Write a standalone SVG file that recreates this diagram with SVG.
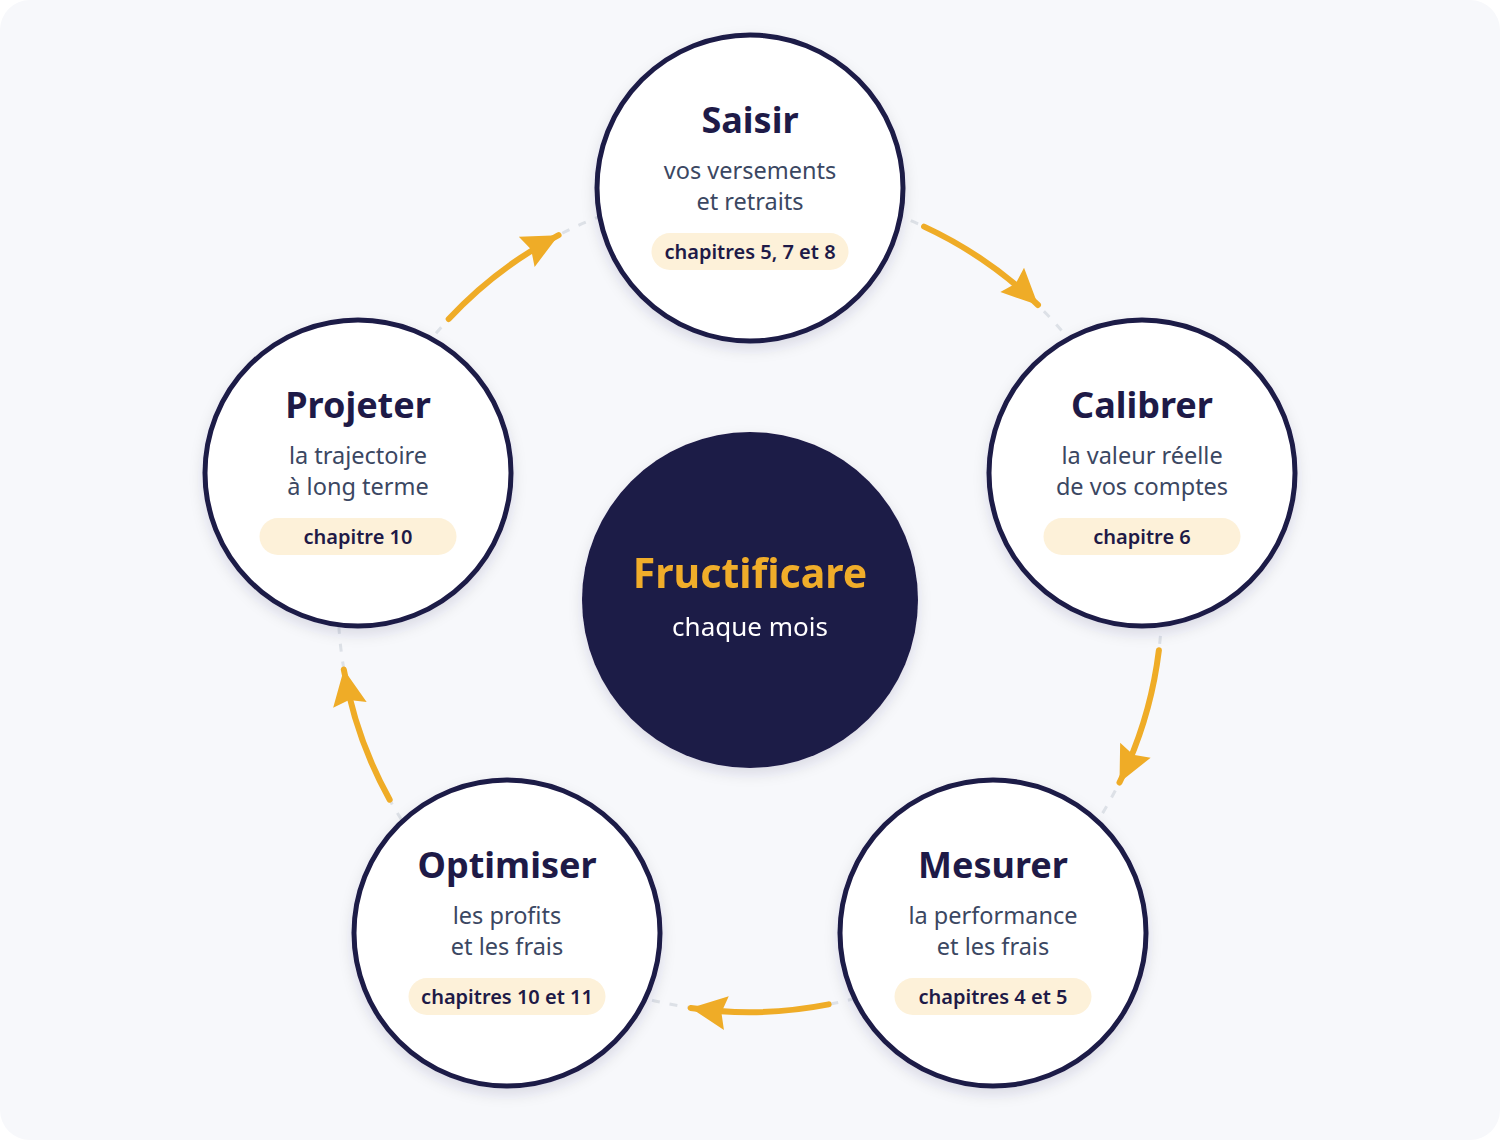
<svg xmlns="http://www.w3.org/2000/svg" width="1500" height="1140" viewBox="0 0 1500 1140">
<defs>
<filter id="sh" x="-20%" y="-20%" width="140%" height="150%"><feDropShadow dx="0" dy="6" stdDeviation="7" flood-color="#1e1a47" flood-opacity="0.12"/></filter>
<marker id="ah" markerUnits="userSpaceOnUse" markerWidth="44" markerHeight="44" viewBox="0 0 44 44" refX="40" refY="22" orient="auto"><path d="M4,5 L40,22 L4,39 L9,22 Z" fill="#efac27"/></marker>
<style>
.node{fill:#fff;stroke:#1e1a47;stroke-width:5}
.t{font-family:"Noto Sans","Open Sans",sans-serif;font-weight:700;font-size:36px;fill:#1e1a47;text-anchor:middle}
.s{font-family:"Noto Sans","Open Sans",sans-serif;font-size:23.5px;fill:#3b4762;text-anchor:middle}
.pill{fill:#fdf1d9}
.p{font-family:"Noto Sans","Open Sans",sans-serif;font-weight:600;font-size:20px;fill:#1e1a47;text-anchor:middle}
.arr{fill:none;stroke:#efac27;stroke-width:6;stroke-linecap:round}
</style>
</defs>
<rect x="0" y="0" width="1500" height="1140" rx="30" fill="#f7f8fb"/>
<circle cx="750" cy="600" r="412" fill="none" stroke="#dde1e7" stroke-width="3" stroke-dasharray="8 10"/>
<g id="connectors">
<path class="arr" marker-end="url(#ah)" d="M924.1,226.6 A412,412 0 0 1 1038,305"/>
<path class="arr" marker-end="url(#ah)" d="M1158.9,650.2 A412,412 0 0 1 1119.5,782.5"/>
<path class="arr" marker-end="url(#ah)" d="M828.6,1004.4 A412,412 0 0 1 690.7,1008"/>
<path class="arr" marker-end="url(#ah)" d="M389.7,799.7 A412,412 0 0 1 343.8,669.5"/>
<path class="arr" marker-end="url(#ah)" d="M448.7,319 A412,412 0 0 1 558.6,235.2"/>
</g>
<g id="center" filter="url(#sh)">
<circle cx="750" cy="600" r="168" fill="#1e1a47"/>
<text x="750" y="588" font-family="Noto Sans,Open Sans,sans-serif" font-weight="700" font-size="41" fill="#f0ad2a" text-anchor="middle">Fructificare</text>
<text x="750" y="636" font-family="Noto Sans,Open Sans,sans-serif" font-size="26" fill="#fff" text-anchor="middle">chaque mois</text>
</g>
<g id="saisir" transform="translate(750,188)">
<circle class="node" r="153" filter="url(#sh)"/>
<text class="t" y="-55">Saisir</text>
<text class="s" y="-9">vos versements</text>
<text class="s" y="22">et retraits</text>
<rect class="pill" x="-98.5" y="45" width="197" height="37" rx="18.5"/>
<text class="p" y="71">chapitres 5, 7 et 8</text>
</g>
<g id="calibrer" transform="translate(1142,473)">
<circle class="node" r="153" filter="url(#sh)"/>
<text class="t" y="-55">Calibrer</text>
<text class="s" y="-9">la valeur réelle</text>
<text class="s" y="22">de vos comptes</text>
<rect class="pill" x="-98.5" y="45" width="197" height="37" rx="18.5"/>
<text class="p" y="71">chapitre 6</text>
</g>
<g id="mesurer" transform="translate(993,933)">
<circle class="node" r="153" filter="url(#sh)"/>
<text class="t" y="-55">Mesurer</text>
<text class="s" y="-9">la performance</text>
<text class="s" y="22">et les frais</text>
<rect class="pill" x="-98.5" y="45" width="197" height="37" rx="18.5"/>
<text class="p" y="71">chapitres 4 et 5</text>
</g>
<g id="optimiser" transform="translate(507,933)">
<circle class="node" r="153" filter="url(#sh)"/>
<text class="t" y="-55">Optimiser</text>
<text class="s" y="-9">les profits</text>
<text class="s" y="22">et les frais</text>
<rect class="pill" x="-98.5" y="45" width="197" height="37" rx="18.5"/>
<text class="p" y="71">chapitres 10 et 11</text>
</g>
<g id="projeter" transform="translate(358,473)">
<circle class="node" r="153" filter="url(#sh)"/>
<text class="t" y="-55">Projeter</text>
<text class="s" y="-9">la trajectoire</text>
<text class="s" y="22">à long terme</text>
<rect class="pill" x="-98.5" y="45" width="197" height="37" rx="18.5"/>
<text class="p" y="71">chapitre 10</text>
</g>
</svg>
